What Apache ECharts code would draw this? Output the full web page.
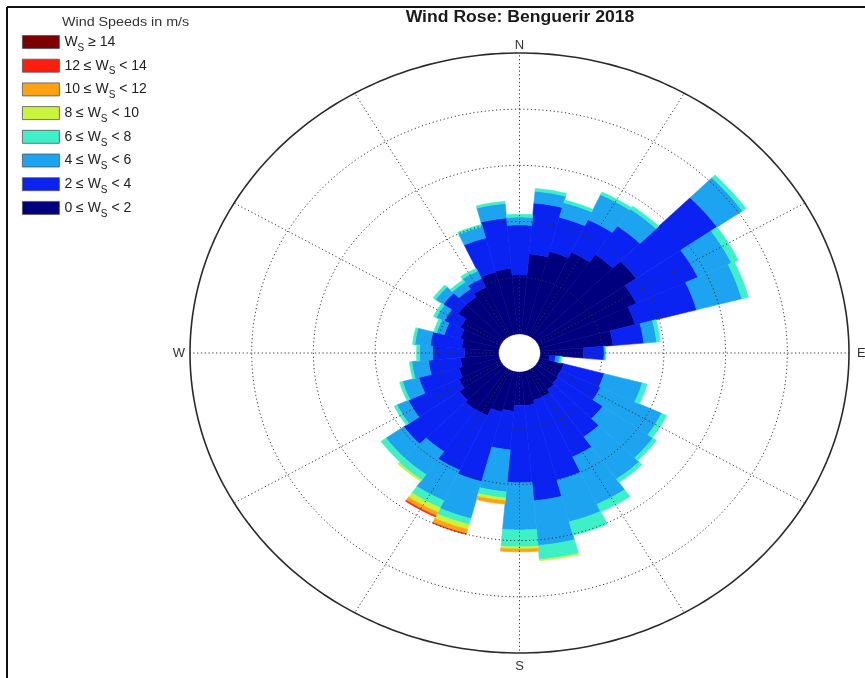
<!DOCTYPE html>
<html>
<head>
<meta charset="utf-8">
<script src="https://cdn.jsdelivr.net/npm/echarts@6/dist/echarts.min.js"></script>
<style>html,body{margin:0;padding:0;background:#fff}#c{width:865px;height:678px}</style>
</head>
<body>
<div id="c"></div>
<script>
// ---------------- DATA ----------------
const directions = [0,10,20,30,40,50,60,70,80,90,100,110,120,130,140,150,160,170,180,190,200,210,220,230,240,250,260,270,280,290,300,310,320,330,340,350];
// frequency (%) per direction for each wind-speed bin
const bin0_2  = [1.05,1.43,1.53,1.64,1.80,1.97,1.75,1.60,1.18,0.70,0.15,0.40,0.40,0.42,0.45,0.52,0.53,0.60,0.59,0.70,0.75,0.89,0.90,0.85,0.75,0.68,0.62,0.55,0.60,0.65,0.72,0.88,0.88,0.95,1.15,1.17];
const bin2_4  = [0.89,0.91,0.63,0.64,0.62,1.60,1.10,1.03,0.50,0.33,0.10,0.68,0.71,0.89,1.03,1.18,1.47,1.70,1.38,0.69,1.28,1.07,0.90,1.10,0.90,0.67,0.52,0.52,0.51,0.27,0.28,0.29,0.17,0.17,0.63,0.90];
const bin4_6  = [0.14,0.21,0.27,0.49,0.37,0.50,0.60,0.76,0.21,0.02,0.07,0.64,1.09,0.99,0.92,0.93,0.77,0.80,0.84,0.75,0.68,0.60,0.50,0.35,0.20,0.27,0.27,0.21,0.25,0.13,0.15,0.15,0.15,0.15,0.21,0.26];
const bin6_8  = [0.05,0.05,0.05,0.05,0.06,0.07,0.12,0.11,0.06,0.01,0.03,0.08,0.09,0.07,0.07,0.15,0.25,0.25,0.30,0.11,0.11,0.14,0.12,0.10,0.05,0.05,0.04,0.05,0.04,0.05,0.05,0.05,0.05,0.05,0.04,0.04];
const bin8_10 = [0,0,0,0,0,0,0,0,0,0,0,0,0,0,0,0,0,0.02,0.04,0.05,0.09,0.09,0.03,0,0,0,0,0,0,0,0,0,0,0,0,0];
const bin10_12= [0,0,0,0,0,0,0,0,0,0,0,0,0,0,0,0,0,0,0.05,0.06,0.08,0.07,0,0,0,0,0,0,0,0,0,0,0,0,0,0];
const bin12_14= [0,0,0,0,0,0,0,0,0,0,0,0,0,0,0,0,0,0,0,0,0.01,0.02,0,0,0,0,0,0,0,0,0,0,0,0,0,0];
const bin14   = [0,0,0,0,0,0,0,0,0,0,0,0,0,0,0,0,0,0,0,0,0,0,0,0,0,0,0,0,0,0,0,0,0,0,0,0];

const binNames  = ['0-2','2-4','4-6','6-8','8-10','10-12','12-14','14+'];
const binLabels = ['0 ≤ W|S| < 2','2 ≤ W|S| < 4','4 ≤ W|S| < 6','6 ≤ W|S| < 8','8 ≤ W|S| < 10','10 ≤ W|S| < 12','12 ≤ W|S| < 14','W|S| ≥ 14'];
const binValues = [bin0_2, bin2_4, bin4_6, bin6_8, bin8_10, bin10_12, bin12_14, bin14];
const binColors = ['#00007e','#0a22f2','#1ca4f0','#3ef0c6','#c8f53c','#ffa312','#ff1e0e','#7e0000'];

const ringSteps = [1,2,3,4];
const outerRing = [5];
const spokeAngles = [0,30,60,90,120,150,180,210,240,270,300,330];
const cardinalAngles = [0,90,180,270];
const cardinalLabels = ['N','E','S','W'];

const chartTitle = 'Wind Rose: Benguerir 2018';
const legendTitle = 'Wind Speeds in m/s';

// ---------------- LAYOUT ----------------
const HOLE = 0.34;            // empty centre, in ring units
const SECTOR = 10;            // sector width in degrees
const EXT = HOLE + outerRing[0];
const FONT = '"Liberation Sans", Arial, Helvetica, sans-serif';

function pt(api, s, deg) {
  const t = deg * Math.PI / 180;
  return api.coord([s * Math.sin(t), s * Math.cos(t)]);
}

const series = [];
const cum = directions.map(() => 0);
binValues.forEach((vals, k) => {
  const data = directions.map((d, i) => {
    const r0 = cum[i];
    const r1 = r0 + vals[i];
    cum[i] = r1;
    return [d, r0, r1];
  });
  series.push({
    type: 'custom',
    name: binNames[k],
    coordinateSystem: 'cartesian2d',
    data: data,
    clip: false,
    silent: true,
    z: 2,
    itemStyle: { color: binColors[k] },
    renderItem: function (params, api) {
      const ang = api.value(0), r0 = api.value(1), r1 = api.value(2);
      if (!(r1 - r0 > 0)) return null;
      const pts = [];
      const h = SECTOR / 2;
      for (let a = ang - h; a <= ang + h + 1e-9; a += 0.5) pts.push(pt(api, HOLE + r1, a));
      for (let a = ang + h; a >= ang - h - 1e-9; a -= 0.5) pts.push(pt(api, HOLE + r0, a));
      return {
        type: 'polygon',
        shape: { points: pts },
        style: { fill: binColors[k], stroke: binColors[k], lineWidth: 0.6 }
      };
    }
  });
});

// dotted rings
series.push({
  type: 'custom', coordinateSystem: 'cartesian2d', silent: true, clip: false, z: 10,
  data: ringSteps.map(r => [r]),
  renderItem: function (params, api) {
    const s = HOLE + api.value(0);
    const pts = [];
    for (let a = 0; a <= 360; a += 1) pts.push(pt(api, s, a));
    return { type: 'polyline', shape: { points: pts },
      style: { stroke: '#333', lineWidth: 1, lineDash: [1.2, 2.6], fill: null } };
  }
});
// dotted spokes
series.push({
  type: 'custom', coordinateSystem: 'cartesian2d', silent: true, clip: false, z: 10,
  data: spokeAngles.map(a => [a]),
  renderItem: function (params, api) {
    const a = api.value(0);
    const p0 = pt(api, HOLE, a), p1 = pt(api, EXT, a);
    return { type: 'line', shape: { x1: p0[0], y1: p0[1], x2: p1[0], y2: p1[1] },
      style: { stroke: '#333', lineWidth: 1, lineDash: [1.2, 2.6] } };
  }
});
// outer circle
series.push({
  type: 'custom', coordinateSystem: 'cartesian2d', silent: true, clip: false, z: 11,
  data: outerRing.map(r => [r]),
  renderItem: function (params, api) {
    const s = HOLE + api.value(0);
    const pts = [];
    for (let a = 0; a <= 360; a += 1) pts.push(pt(api, s, a));
    return { type: 'polyline', shape: { points: pts },
      style: { stroke: '#2a2a2a', lineWidth: 1.6, fill: null } };
  }
});
// cardinal labels
series.push({
  type: 'custom', coordinateSystem: 'cartesian2d', silent: true, clip: false, z: 11,
  data: cardinalAngles.map(a => [a]),
  renderItem: function (params, api) {
    const a = api.value(0);
    const gaps = [1, 8, 7, 5];
    const g = gaps[params.dataIndex];
    const p = pt(api, EXT, a);
    const sx = Math.sin(a * Math.PI / 180), cy = Math.cos(a * Math.PI / 180);
    return { type: 'text', x: p[0] + g * sx, y: p[1] - g * cy,
      style: { text: cardinalLabels[params.dataIndex], fill: '#333', font: '13px ' + FONT,
        align: sx > 0.5 ? 'left' : (sx < -0.5 ? 'right' : 'center'),
        verticalAlign: cy > 0.5 ? 'bottom' : (cy < -0.5 ? 'top' : 'middle') } };
  }
});

const legendText = {};
binNames.forEach((n, i) => {
  const parts = binLabels[i].split('|');
  legendText[n] = '{t|' + parts[0] + '}{s|' + parts[1] + '}{t|' + parts[2] + '}';
});

const chart = echarts.init(document.getElementById('c'), null, { renderer: 'canvas' });
chart.setOption({
  animation: false,
  backgroundColor: '#fff',
  textStyle: { fontFamily: FONT },
  grid: { left: 190, right: 16, top: 53, bottom: 25, containLabel: false },
  xAxis: { type: 'value', min: -EXT, max: EXT, show: false, splitLine: { show: false } },
  yAxis: { type: 'value', min: -EXT, max: EXT, show: false, splitLine: { show: false } },
  legend: {
    orient: 'vertical', left: 22, top: 35, padding: 0,
    itemWidth: 37, itemHeight: 13, itemGap: 5.7,
    icon: 'rect', selectedMode: false,
    data: binNames.slice().reverse(),
    itemStyle: { borderColor: '#555', borderWidth: 0.8 },
    formatter: function (name) { return legendText[name]; },
    textStyle: {
      color: '#222',
      rich: {
        t: { fontSize: 14, lineHeight: 22, verticalAlign: 'middle', color: '#222', fontFamily: FONT },
        s: { fontSize: 10, lineHeight: 10, verticalAlign: 'bottom', color: '#222', fontFamily: FONT }
      }
    }
  },
  graphic: [
    { type: 'line', shape: { x1: 7, y1: 7, x2: 870, y2: 7 }, style: { stroke: '#111', lineWidth: 2 } },
    { type: 'line', shape: { x1: 7, y1: 7, x2: 7, y2: 690 }, style: { stroke: '#111', lineWidth: 2 } },
    { type: 'text', x: 520, y: 18, scaleX: 1.1,
      style: { text: chartTitle, font: 'bold 16px ' + FONT, fill: '#1a1a1a', align: 'center', verticalAlign: 'middle' } },
    { type: 'text', x: 62, y: 22, scaleX: 1.1,
      style: { text: legendTitle, font: '13px ' + FONT, fill: '#333', align: 'left', verticalAlign: 'middle' } }
  ],
  series: series
});
</script>
</body>
</html>
